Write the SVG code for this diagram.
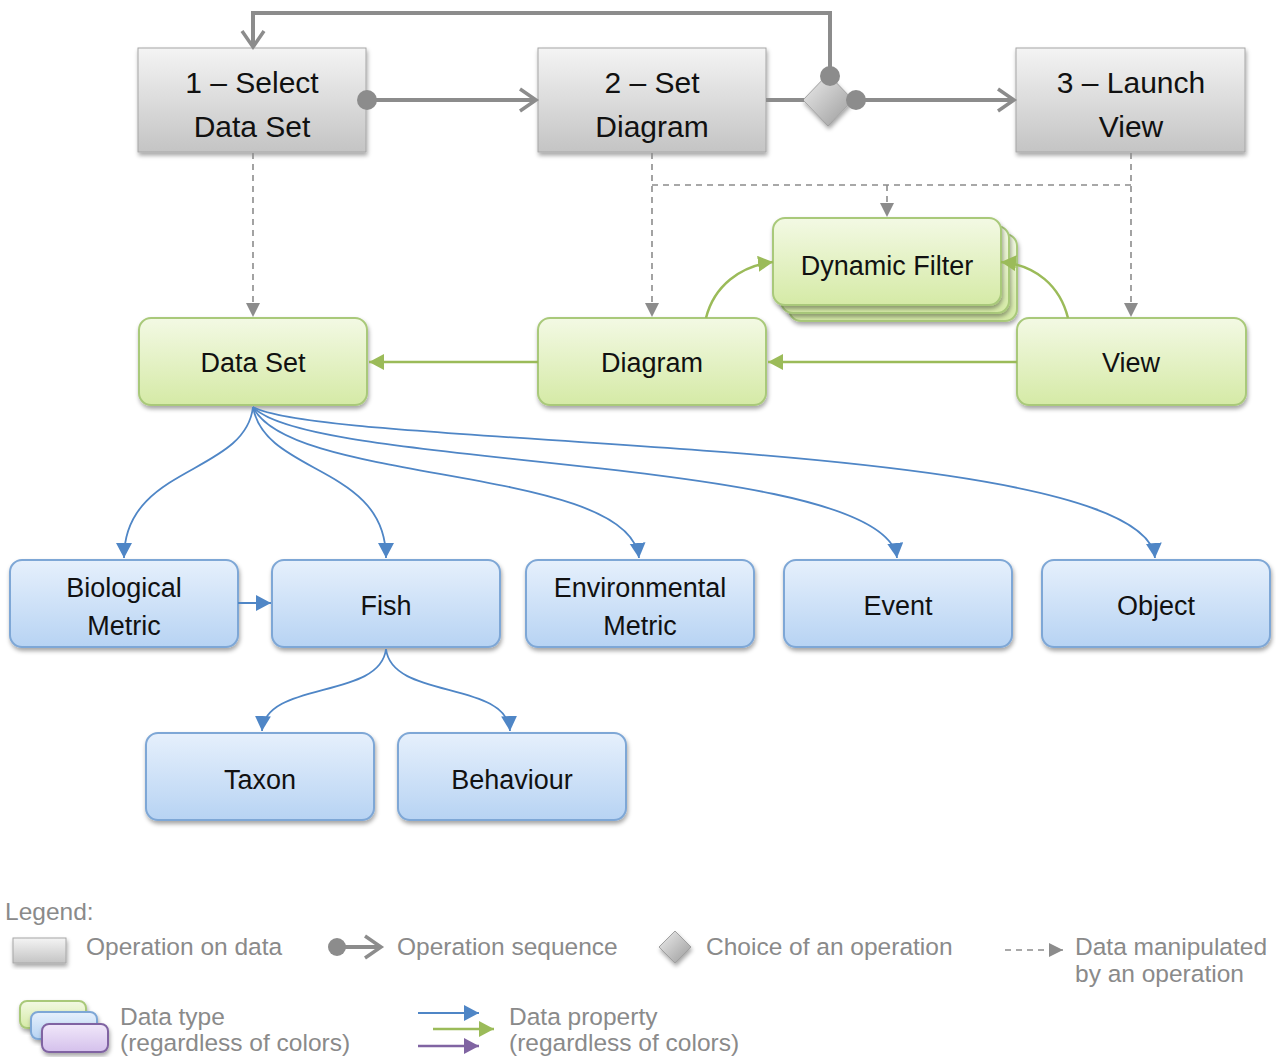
<svg xmlns="http://www.w3.org/2000/svg" width="1276" height="1057" viewBox="0 0 1276 1057">
  <defs>
    <linearGradient id="gOp" x1="0" y1="0" x2="0" y2="1">
      <stop offset="0" stop-color="#f4f4f4"/>
      <stop offset="1" stop-color="#c4c4c4"/>
    </linearGradient>
    <linearGradient id="gGreen" x1="0" y1="0" x2="0" y2="1">
      <stop offset="0" stop-color="#f3f9e4"/>
      <stop offset="1" stop-color="#d5eaa6"/>
    </linearGradient>
    <linearGradient id="gBlue" x1="0" y1="0" x2="0" y2="1">
      <stop offset="0" stop-color="#e6f0fc"/>
      <stop offset="1" stop-color="#b7d3f3"/>
    </linearGradient>
    <linearGradient id="gPurple" x1="0" y1="0" x2="0" y2="1">
      <stop offset="0" stop-color="#f1e8fa"/>
      <stop offset="1" stop-color="#d4c0ec"/>
    </linearGradient>
    <linearGradient id="gDiamond" x1="0" y1="0" x2="1" y2="1">
      <stop offset="0" stop-color="#eeeeee"/>
      <stop offset="1" stop-color="#9a9a9a"/>
    </linearGradient>
    <filter id="shadow" x="-10%" y="-10%" width="125%" height="135%">
      <feDropShadow dx="1" dy="3" stdDeviation="2" flood-color="#000" flood-opacity="0.35"/>
    </filter>
    <marker id="chev" markerUnits="userSpaceOnUse" markerWidth="26" markerHeight="28" refX="20" refY="12" orient="auto" overflow="visible">
      <path d="M4,1 L20,12 L4,23" fill="none" stroke="#8c8c8c" stroke-width="3.5" stroke-linejoin="miter"/>
    </marker>
    <marker id="triGray" markerUnits="userSpaceOnUse" markerWidth="16" markerHeight="16" refX="14" refY="7" orient="auto">
      <path d="M0,0 L14,7 L0,14 Z" fill="#8c8c8c"/>
    </marker>
    <marker id="triGreen" markerUnits="userSpaceOnUse" markerWidth="18" markerHeight="18" refX="15" refY="8" orient="auto">
      <path d="M0,0 L15,8 L0,16 Z" fill="#9bbb59"/>
    </marker>
    <marker id="triBlue" markerUnits="userSpaceOnUse" markerWidth="18" markerHeight="18" refX="15" refY="8" orient="auto">
      <path d="M0,0 L15,8 L0,16 Z" fill="#4f86c6"/>
    </marker>
    <marker id="triPurple" markerUnits="userSpaceOnUse" markerWidth="18" markerHeight="18" refX="15" refY="8" orient="auto">
      <path d="M0,0 L15,8 L0,16 Z" fill="#8064a2"/>
    </marker>
    <style>
      .op { fill: url(#gOp); stroke: #a6a6a6; stroke-width: 1; filter: url(#shadow); }
      .green { fill: url(#gGreen); stroke: #a9c97a; stroke-width: 2; filter: url(#shadow); }
      .blue { fill: url(#gBlue); stroke: #7ea7d6; stroke-width: 2; filter: url(#shadow); }
      .lbl { font-family: "Liberation Sans", Arial, sans-serif; fill: #111; text-anchor: middle; }
      .opl { font-size: 30px; }
      .dl { font-size: 27px; }
      .seq { fill: none; stroke: #8c8c8c; stroke-width: 4; }
      .dash { fill: none; stroke: #8c8c8c; stroke-width: 1.6; stroke-dasharray: 6 5; }
      .gline { fill: none; stroke: #9bbb59; stroke-width: 2.5; }
      .bline { fill: none; stroke: #4f86c6; stroke-width: 1.8; }
      .leg { font-family: "Liberation Sans", Arial, sans-serif; font-size: 24.5px; fill: #8a8a8a; }
      .dot { fill: #8c8c8c; }
    </style>
  </defs>

  <rect width="1276" height="1057" fill="#ffffff"/>

  <!-- operations -->
  <g id="op-select">
    <rect class="op" x="138" y="48" width="228" height="104"/>
    <text class="lbl opl" x="252" y="93">1 – Select</text>
    <text class="lbl opl" x="252" y="137">Data Set</text>
  </g>
  <g id="op-diagram">
    <rect class="op" x="538" y="48" width="228" height="104"/>
    <text class="lbl opl" x="652" y="93">2 – Set</text>
    <text class="lbl opl" x="652" y="137">Diagram</text>
  </g>
  <g id="op-choice">
    <path d="M828,74 L853,100 L828,126 L803,100 Z" fill="url(#gDiamond)" stroke="#a0a0a0" stroke-width="1" filter="url(#shadow)"/>
  </g>
  <g id="op-launch">
    <rect class="op" x="1016" y="48" width="229" height="104"/>
    <text class="lbl opl" x="1131" y="93">3 – Launch</text>
    <text class="lbl opl" x="1131" y="137">View</text>
  </g>

  <!-- data types -->
  <g id="dataset">
    <rect class="green" x="139" y="318" width="228" height="87" rx="12"/>
    <text class="lbl dl" x="253" y="372">Data Set</text>
  </g>
  <g id="diagram">
    <rect class="green" x="538" y="318" width="228" height="87" rx="12"/>
    <text class="lbl dl" x="652" y="372">Diagram</text>
  </g>
  <g id="view">
    <rect class="green" x="1017" y="318" width="229" height="87" rx="12"/>
    <text class="lbl dl" x="1131" y="372">View</text>
  </g>
  <g id="dynamic-filter">
    <rect class="green" x="789" y="234" width="228" height="87" rx="12"/>
    <rect class="green" x="781" y="226" width="228" height="87" rx="12"/>
    <rect class="green" x="773" y="218" width="228" height="87" rx="12"/>
    <text class="lbl dl" x="887" y="275">Dynamic Filter</text>
  </g>

  <g id="biological-metric">
    <rect class="blue" x="10" y="560" width="228" height="87" rx="12"/>
    <text class="lbl dl" x="124" y="597">Biological</text>
    <text class="lbl dl" x="124" y="635">Metric</text>
  </g>
  <g id="fish">
    <rect class="blue" x="272" y="560" width="228" height="87" rx="12"/>
    <text class="lbl dl" x="386" y="615">Fish</text>
  </g>
  <g id="environmental-metric">
    <rect class="blue" x="526" y="560" width="228" height="87" rx="12"/>
    <text class="lbl dl" x="640" y="597">Environmental</text>
    <text class="lbl dl" x="640" y="635">Metric</text>
  </g>
  <g id="event">
    <rect class="blue" x="784" y="560" width="228" height="87" rx="12"/>
    <text class="lbl dl" x="898" y="615">Event</text>
  </g>
  <g id="object">
    <rect class="blue" x="1042" y="560" width="228" height="87" rx="12"/>
    <text class="lbl dl" x="1156" y="615">Object</text>
  </g>
  <g id="taxon">
    <rect class="blue" x="146" y="733" width="228" height="87" rx="12"/>
    <text class="lbl dl" x="260" y="789">Taxon</text>
  </g>
  <g id="behaviour">
    <rect class="blue" x="398" y="733" width="228" height="87" rx="12"/>
    <text class="lbl dl" x="512" y="789">Behaviour</text>
  </g>

  <!-- connectors (drawn over the nodes so the end dots stay visible) -->
  <g id="connectors">
    <!-- operation sequence -->
    <path class="seq" d="M367,100 L536,100" marker-end="url(#chev)"/>
    <path class="seq" d="M766,100 L804,100"/>
    <path class="seq" d="M856,100 L1014,100" marker-end="url(#chev)"/>
    <path class="seq" d="M830,76 L830,13 L253,13 L253,47" marker-end="url(#chev)"/>
    <circle class="dot" cx="367" cy="100" r="10"/>
    <circle class="dot" cx="830" cy="76" r="10"/>
    <circle class="dot" cx="856" cy="100" r="10"/>

    <!-- data manipulated by operations -->
    <path class="dash" d="M253,153 L253,317" marker-end="url(#triGray)"/>
    <path class="dash" d="M652,153 L652,317" marker-end="url(#triGray)"/>
    <path class="dash" d="M1131,153 L1131,317" marker-end="url(#triGray)"/>
    <path class="dash" d="M652,185 L1131,185"/>
    <path class="dash" d="M887,185 L887,217" marker-end="url(#triGray)"/>

    <!-- green data property links -->
    <path class="gline" d="M1017,362 L768,362" marker-end="url(#triGreen)"/>
    <path class="gline" d="M538,362 L369,362" marker-end="url(#triGreen)"/>
    <path class="gline" d="M706,318 C714,286 740,266 773,262" marker-end="url(#triGreen)"/>
    <path class="gline" d="M1068,318 C1060,286 1036,265 1001,262" marker-end="url(#triGreen)"/>

    <!-- blue data property links -->
    <path class="bline" d="M253,407 C245,475 124,465 124,558" marker-end="url(#triBlue)"/>
    <path class="bline" d="M253,407 C265,475 386,465 386,558" marker-end="url(#triBlue)"/>
    <path class="bline" d="M253,407 C290,485 630,465 639,558" marker-end="url(#triBlue)"/>
    <path class="bline" d="M253,407 C310,470 885,455 897,558" marker-end="url(#triBlue)"/>
    <path class="bline" d="M253,407 C330,450 1145,435 1155,558" marker-end="url(#triBlue)"/>
    <path class="bline" d="M238,603 L271,603" marker-end="url(#triBlue)"/>
    <path class="bline" d="M386,649 C380,700 265,680 262,731" marker-end="url(#triBlue)"/>
    <path class="bline" d="M386,649 C392,700 507,680 510,731" marker-end="url(#triBlue)"/>
  </g>

  <!-- legend -->
  <g id="legend">
    <text class="leg" x="5" y="920">Legend:</text>
    <rect x="13" y="938" width="53" height="25" fill="url(#gOp)" stroke="#a6a6a6" stroke-width="1" filter="url(#shadow)"/>
    <text class="leg" x="86" y="955">Operation on data</text>

    <circle class="dot" cx="337" cy="947" r="9"/>
    <path class="seq" d="M337,947 L381,947" marker-end="url(#chev)" stroke-width="3.5"/>
    <text class="leg" x="397" y="955">Operation sequence</text>

    <path d="M675,931 L691,947 L675,963 L659,947 Z" fill="url(#gDiamond)" stroke="#a0a0a0" stroke-width="1" filter="url(#shadow)"/>
    <text class="leg" x="706" y="955">Choice of an operation</text>

    <path class="dash" d="M1005,950 L1063,950" marker-end="url(#triGray)"/>
    <text class="leg" x="1075" y="955">Data manipulated</text>
    <text class="leg" x="1075" y="982">by an operation</text>

    <rect x="20" y="1001" width="66" height="27" rx="7" fill="url(#gGreen)" stroke="#a9c97a" stroke-width="2" filter="url(#shadow)"/>
    <rect x="31" y="1012" width="66" height="27" rx="7" fill="url(#gBlue)" stroke="#7ea7d6" stroke-width="2" filter="url(#shadow)"/>
    <rect x="42" y="1024" width="66" height="28" rx="7" fill="url(#gPurple)" stroke="#8064a2" stroke-width="2" filter="url(#shadow)"/>
    <text class="leg" x="120" y="1025">Data type</text>
    <text class="leg" x="120" y="1051">(regardless of colors)</text>

    <path class="bline" d="M418,1013 L479,1013" stroke-width="2.5" marker-end="url(#triBlue)"/>
    <path class="gline" d="M433,1029 L494,1029" marker-end="url(#triGreen)"/>
    <path d="M418,1046 L479,1046" fill="none" stroke="#8064a2" stroke-width="2.5" marker-end="url(#triPurple)"/>
    <text class="leg" x="509" y="1025">Data property</text>
    <text class="leg" x="509" y="1051">(regardless of colors)</text>
  </g>
</svg>
